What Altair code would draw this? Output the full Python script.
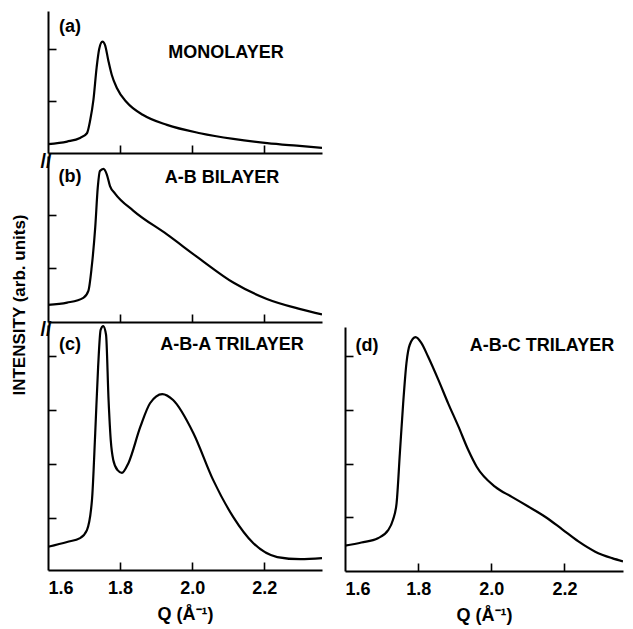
import altair as alt
import pandas as pd

FONT = "Liberation Sans"

# ---------------- data ----------------
# (a) monolayer
qa = [1.600, 1.653, 1.689, 1.708, 1.717, 1.726, 1.735, 1.742, 1.751, 1.758, 1.767,
      1.777, 1.791, 1.819, 1.864, 1.930, 2.022, 2.114, 2.208, 2.290, 2.360]
ia = [0.17, 0.22, 0.29, 0.38, 0.63, 1.02, 1.65, 2.00, 2.14, 2.08, 1.79,
      1.50, 1.25, 0.97, 0.73, 0.54, 0.38, 0.27, 0.19, 0.14, 0.10]

# (b) A-B bilayer
qb = [1.600, 1.653, 1.698, 1.712, 1.721, 1.731, 1.738, 1.744, 1.754, 1.763, 1.772,
      1.786, 1.837, 1.930, 2.022, 2.115, 2.207, 2.300, 2.360]
ib = [0.32, 0.36, 0.45, 0.58, 1.01, 1.76, 2.50, 2.81, 2.85, 2.75, 2.53,
      2.39, 2.07, 1.63, 1.17, 0.73, 0.43, 0.24, 0.14]

# (c) A-B-A trilayer
qc = [1.600, 1.653, 1.689, 1.708, 1.722, 1.731, 1.739, 1.746, 1.753, 1.761, 1.768,
      1.774, 1.781, 1.793, 1.805, 1.823, 1.856, 1.883, 1.917, 1.947, 2.003, 2.058,
      2.114, 2.169, 2.236, 2.300, 2.360]
ic = [0.46, 0.55, 0.62, 0.77, 1.33, 2.57, 3.79, 4.48, 4.55, 4.39, 3.18,
      2.44, 2.07, 1.88, 1.83, 2.01, 2.68, 3.12, 3.29, 3.18, 2.57, 1.70,
      1.01, 0.53, 0.27, 0.23, 0.25]

# (d) A-B-C trilayer
qd = [1.600, 1.645, 1.690, 1.718, 1.731, 1.741, 1.750, 1.759, 1.768, 1.777, 1.793,
      1.809, 1.827, 1.855, 1.882, 1.910, 1.937, 1.960, 2.010, 2.056, 2.101, 2.147,
      2.193, 2.238, 2.284, 2.330, 2.360]
idd = [0.47, 0.53, 0.61, 0.76, 0.95, 1.26, 2.19, 3.12, 3.87, 4.21, 4.35,
       4.24, 3.99, 3.56, 3.12, 2.69, 2.25, 1.94, 1.57, 1.38, 1.20, 1.01,
       0.78, 0.55, 0.36, 0.24, 0.18]

x_labels = [1.6, 1.8, 2.0, 2.2]
x_inner_ticks = [1.8, 2.0, 2.2]
panel_tags = ["(a)", "(b)", "(c)", "(d)"]
panel_names = ["MONOLAYER", "A-B  BILAYER", "A-B-A  TRILAYER", "A-B-C  TRILAYER"]
y_title = "INTENSITY (arb. units)"
x_title = "Q (Å⁻¹)"


def text_layer(txt, x, y, size=18, angle=0):
    return alt.Chart(pd.DataFrame({"t": [txt]})).mark_text(
        font=FONT, fontSize=size, fontWeight="bold", color="black",
        align="center", baseline="middle", angle=angle
    ).encode(x=alt.value(x), y=alt.value(y), text="t:N")


def panel(q, v, ydom, yticks, w, h, tag, name, tagpos, namepos,
          bottom=False, brk=None, extra=None):
    df = pd.DataFrame({"Q": q, "I": v})
    xs = alt.Scale(domain=[1.6, 2.36], nice=False, zero=False)
    ys = alt.Scale(domain=ydom, nice=False, zero=False)
    x_in = alt.Axis(orient="top", offset=-h, labels=False, ticks=True, tickSize=8,
                    tickWidth=1.6, tickColor="black", domain=True, domainColor="black",
                    domainWidth=2, values=x_inner_ticks, grid=False, title=None)
    y_in = alt.Axis(orient="right", offset=-w, labels=False, ticks=True, tickSize=8,
                    tickWidth=1.6, tickColor="black", domain=True, domainColor="black",
                    domainWidth=2, values=yticks, grid=False, title=None)
    line = alt.Chart(df).mark_line(color="black", strokeWidth=2.2,
                                   interpolate="monotone", clip=True).encode(
        x=alt.X("Q:Q", scale=xs, axis=x_in),
        y=alt.Y("I:Q", scale=ys, axis=y_in))
    layers = [line]
    if bottom:
        x_lab = alt.Axis(orient="bottom", labels=True, ticks=False, tickSize=0,
                         domain=False, values=x_labels, format=".1f",
                         labelFont=FONT, labelFontSize=18, labelFontWeight="bold",
                         labelColor="black", labelPadding=9, grid=False,
                         title=x_title, titleFont=FONT, titleFontSize=18,
                         titleFontWeight="bold", titleColor="black", titlePadding=8)
        ghost = alt.Chart(df).mark_line(opacity=0).encode(
            x=alt.X("Q:Q", scale=xs, axis=x_lab),
            y=alt.Y("I:Q", scale=ys, axis=y_in))
        layers.append(ghost)
    layers.append(text_layer(tag, *tagpos))
    layers.append(text_layer(name, *namepos))
    if brk is not None:
        layers.append(text_layer("//", brk[0], brk[1], size=20))
    if extra is not None:
        layers.append(extra)
    ch = alt.layer(*layers).properties(width=w, height=h)
    if bottom:
        ch = ch.resolve_axis(x="independent")
    return ch


W = 274
pa = panel(qa, ia, [0, 2.73], [1, 2], W, 142, panel_tags[0], panel_names[0],
           (22, 16), (178, 42))
pb = panel(qb, ib, [0, 3.09], [1, 2], W, 166, panel_tags[1], panel_names[1],
           (22, 21), (174, 22), brk=(-2, 6),
           extra=text_layer(y_title, -28, 149, size=17, angle=270))
pc = panel(qc, ic, [0.03, 4.57], [1, 2, 3, 4], W, 245, panel_tags[2], panel_names[2],
           (22, 20), (184, 20), bottom=True, brk=(-2, 5))
pd_ = panel(qd, idd, [0, 4.54], [1, 2, 3, 4], 278, 244, panel_tags[3], panel_names[3],
            (22, 19), (197, 19), bottom=True)

spacer = alt.Chart(pd.DataFrame({"z": [0]})).mark_point(opacity=0).encode(
    x=alt.X("z:Q", axis=None), y=alt.Y("z:Q", axis=None)
).properties(width=278, height=316)

left = alt.vconcat(pa, pb, pc, spacing=3, bounds="flush")
right = alt.vconcat(spacer, pd_, spacing=0, bounds="flush")

chart = alt.hconcat(left, right, spacing=20).properties(
    padding={"left": 2, "top": 2, "right": 0, "bottom": 0},
    background="white"
).configure_view(stroke="transparent")

chart.save("out.html", embed_options={"renderer": "svg", "actions": False})
